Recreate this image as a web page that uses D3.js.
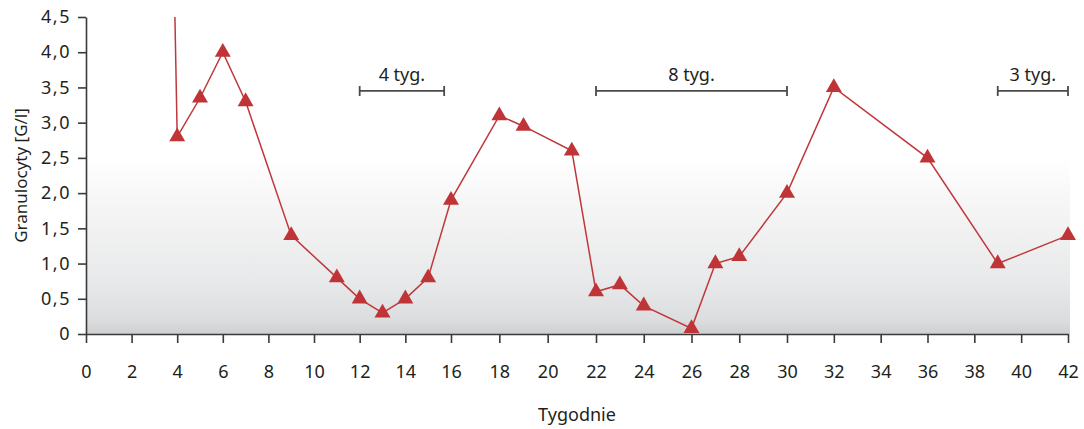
<!DOCTYPE html>
<html>
<head>
<meta charset="utf-8">
<script src="https://cdn.jsdelivr.net/npm/d3@7"></script>
<style>
  body { margin: 0; background: #fff; }
  text { font-family: "Noto Sans", "Open Sans", sans-serif; fill: #231f20; }
  .axis path, .axis line { stroke: #3a3a3a; stroke-width: 1.6; }
  .axis text { font-size: 18px; }
  .y-axis text { letter-spacing: 1.5px; }
</style>
</head>
<body>
<div id="chart"></div>
<script>
// week / value pairs
var weeks  = [4, 5, 6, 7, 9, 11, 12, 13, 14, 15, 16, 18, 19, 21, 22, 23, 24, 26, 27, 28, 30, 32, 36, 39, 42]
var values = [2.8, 3.35, 4.0, 3.3, 1.4, 0.8, 0.5, 0.3, 0.5, 0.8, 1.9, 3.1, 2.95, 2.6, 0.6, 0.7, 0.4, 0.08, 1.0, 1.1, 2.0, 3.5, 2.5, 1.0, 1.4]

// line coming in from above the top of the axis before week 4
var leadIn = { week: 3.9, value: 4.5 }

var xTicks = d3.range(0, 43, 2)
var yTicks = d3.range(0, 4.51, 0.5)

var spans = [
  { from: 12, to: 15.7, label: '4 tyg.' },
  { from: 22, to: 30, label: '8 tyg.' },
  { from: 39, to: 42, label: '3 tyg.' }
]

var width = 1084, height = 429
var margin = { top: 17, left: 86, bottom: 95 }
var plotBottom = height - margin.bottom

// the printed axis is not evenly spaced, so use a few stops along it
var xStops = [0, 10, 16, 22, 30, 42]
var xStopPx = [86, 314, 451, 596, 787, 1068]

var xScale = d3.scaleLinear().domain(xStops).range(xStopPx)
var yScale = d3.scaleLinear().domain([0, 4.5]).range([plotBottom, margin.top])

var svg = d3.select('#chart').append('svg')
  .attr('width', width)
  .attr('height', height)

// background: white fading to grey toward the bottom
var defs = svg.append('defs')
var grad = defs.append('linearGradient')
  .attr('id', 'bg')
  .attr('x1', 0).attr('y1', 0).attr('x2', 0).attr('y2', 1)
grad.append('stop').attr('offset', '0%').attr('stop-color', '#ffffff')
grad.append('stop').attr('offset', '25%').attr('stop-color', '#f6f6f6')
grad.append('stop').attr('offset', '70%').attr('stop-color', '#e8e9ea')
grad.append('stop').attr('offset', '92%').attr('stop-color', '#dcdddf')
grad.append('stop').attr('offset', '100%').attr('stop-color', '#cfd0d2')

var bgTop = yScale(2.5)
svg.append('rect')
  .attr('x', xScale(0))
  .attr('y', bgTop)
  .attr('width', xScale(42) + 2 - xScale(0))
  .attr('height', plotBottom - bgTop)
  .attr('fill', 'url(#bg)')

// axes
svg.append('g')
  .attr('class', 'axis')
  .attr('transform', 'translate(0,' + plotBottom + ')')
  .call(d3.axisBottom(xScale).tickValues(xTicks).tickSize(9).tickPadding(22).tickSizeOuter(0))

svg.append('g')
  .attr('class', 'axis y-axis')
  .attr('transform', 'translate(' + xScale(0) + ',0)')
  .call(d3.axisLeft(yScale).tickValues(yTicks).tickSize(8).tickPadding(7).tickSizeOuter(0)
    .tickFormat(function(d) { return d === 0 ? '0' : d3.format('.1f')(d).replace('.', ',') }))

// axis titles
svg.append('text')
  .attr('x', (xScale(0) + xScale(42)) / 2)
  .attr('y', 421)
  .attr('text-anchor', 'middle')
  .style('font-size', '18px')
  .text('Tygodnie')

svg.append('text')
  .attr('transform', 'translate(27,' + yScale(2.25) + ') rotate(-90)')
  .attr('text-anchor', 'middle')
  .style('font-size', '17px')
  .text('Granulocyty [G/l]')

// interval brackets
var spanY = yScale(3.45)
var spanG = svg.selectAll('.span').data(spans).enter().append('g').attr('class', 'span')
spanG.append('line')
  .attr('x1', d => xScale(d.from)).attr('x2', d => xScale(d.to))
  .attr('y1', spanY).attr('y2', spanY)
spanG.append('line')
  .attr('x1', d => xScale(d.from)).attr('x2', d => xScale(d.from))
  .attr('y1', spanY - 5).attr('y2', spanY + 5)
spanG.append('line')
  .attr('x1', d => xScale(d.to)).attr('x2', d => xScale(d.to))
  .attr('y1', spanY - 5).attr('y2', spanY + 5)
spanG.selectAll('line').attr('stroke', '#4a4a4a').attr('stroke-width', 1.8)
spanG.append('text')
  .attr('x', d => (xScale(d.from) + xScale(d.to)) / 2)
  .attr('y', spanY - 10)
  .attr('text-anchor', 'middle')
  .style('font-size', '18px')
  .text(d => d.label)

// series
var data = weeks.map((w, i) => ({ week: w, value: values[i] }))

var line = d3.line()
  .x(d => xScale(d.week))
  .y(d => yScale(d.value))

svg.append('path')
  .datum([leadIn].concat(data))
  .attr('fill', 'none')
  .attr('stroke', '#c0373a')
  .attr('stroke-width', 1.5)
  .attr('d', line)

var tri = d3.symbol().type(d3.symbolTriangle).size(110)
svg.selectAll('.pt').data(data).enter().append('path')
  .attr('class', 'pt')
  .attr('transform', d => 'translate(' + xScale(d.week) + ',' + yScale(d.value) + ')')
  .attr('d', tri)
  .attr('fill', '#bf3437')
</script>
</body>
</html>
